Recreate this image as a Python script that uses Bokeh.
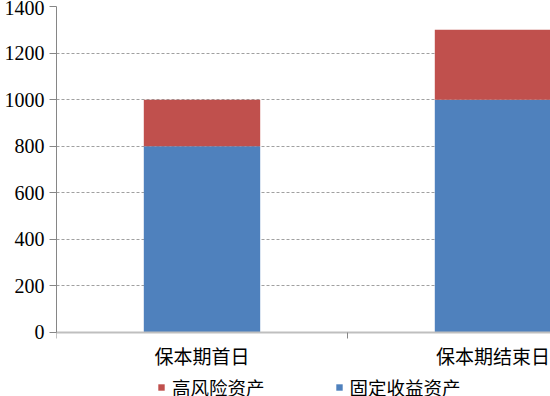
from bokeh.plotting import figure
from bokeh.models import ColumnDataSource, Range1d, FixedTicker, Legend, LegendItem
from bokeh.embed import file_html
from bokeh.resources import INLINE

categories = ["保本期首日", "保本期结束日"]
fixed_income = [800, 1000]
high_risk = [200, 300]
series_names = ["高风险资产", "固定收益资产"]
y_ticks = [0, 200, 400, 600, 800, 1000, 1200, 1400]

BLUE = "#4F81BD"
RED = "#C0504D"

x_pos = [i + 0.5 for i in range(len(categories))]
source = ColumnDataSource(dict(x=x_pos, fixed=fixed_income, risk=high_risk))

p = figure(frame_width=494, frame_height=390, x_range=Range1d(0, 1.6976), y_range=Range1d(-275, 1400),
           output_backend="svg", toolbar_location=None,
           min_border_left=56, min_border_right=0, min_border_top=6, min_border_bottom=0)
p.outline_line_color = None
p.background_fill_color = "white"
p.border_fill_color = "white"

rs = p.vbar_stack(["fixed", "risk"], x="x", width=0.4, color=[BLUE, RED],
                  source=source, line_color=None)

# y axis
p.yaxis.ticker = FixedTicker(ticks=y_ticks)
p.yaxis.bounds = (y_ticks[0], y_ticks[-1])
p.yaxis.axis_line_color = "#868686"
p.yaxis.major_tick_line_color = "#868686"
p.yaxis.major_tick_out = 7
p.yaxis.major_tick_in = 0
p.yaxis.minor_tick_line_color = None
p.yaxis.major_label_standoff = 5
p.yaxis.major_label_text_font = "Liberation Serif"
p.yaxis.major_label_text_font_size = "20px"
p.yaxis.major_label_text_color = "black"

# x axis, pinned to the zero line
p.xaxis.fixed_location = 0
p.xaxis.ticker = FixedTicker(ticks=x_pos, minor_ticks=[0, 1, 2])
p.xaxis.major_label_overrides = {x: c for x, c in zip(x_pos, categories)}
p.xaxis.axis_line_color = "#bfbfbf"
p.xaxis.axis_line_width = 2
p.xaxis.major_tick_line_color = None
p.xaxis.major_tick_out = 6
p.xaxis.major_tick_in = 0
p.xaxis.minor_tick_line_color = "#868686"
p.xaxis.minor_tick_out = 6
p.xaxis.minor_tick_in = 0
p.xaxis.major_label_standoff = 4
p.xaxis.major_label_text_font = "Noto Sans CJK SC"
p.xaxis.major_label_text_font_size = "19px"
p.xaxis.major_label_text_color = "black"

# grid
p.xgrid.visible = False
p.ygrid.ticker = FixedTicker(ticks=y_ticks)
p.ygrid.grid_line_color = "#a0a0a0"
p.ygrid.grid_line_dash = "3 2"

legend = Legend(items=[LegendItem(label=series_names[0], renderers=[rs[1]]),
                       LegendItem(label=series_names[1], renderers=[rs[0]])],
                orientation="horizontal", location=(101, -4),
                glyph_width=8, glyph_height=8, label_standoff=7, spacing=70,
                padding=0, margin=0, border_line_color=None, background_fill_alpha=0,
                label_text_font="Noto Sans CJK SC", label_text_font_size="18.5px",
                label_text_color="black")
p.add_layout(legend, "center")

open("out.html", "w").write(file_html(p, INLINE))
